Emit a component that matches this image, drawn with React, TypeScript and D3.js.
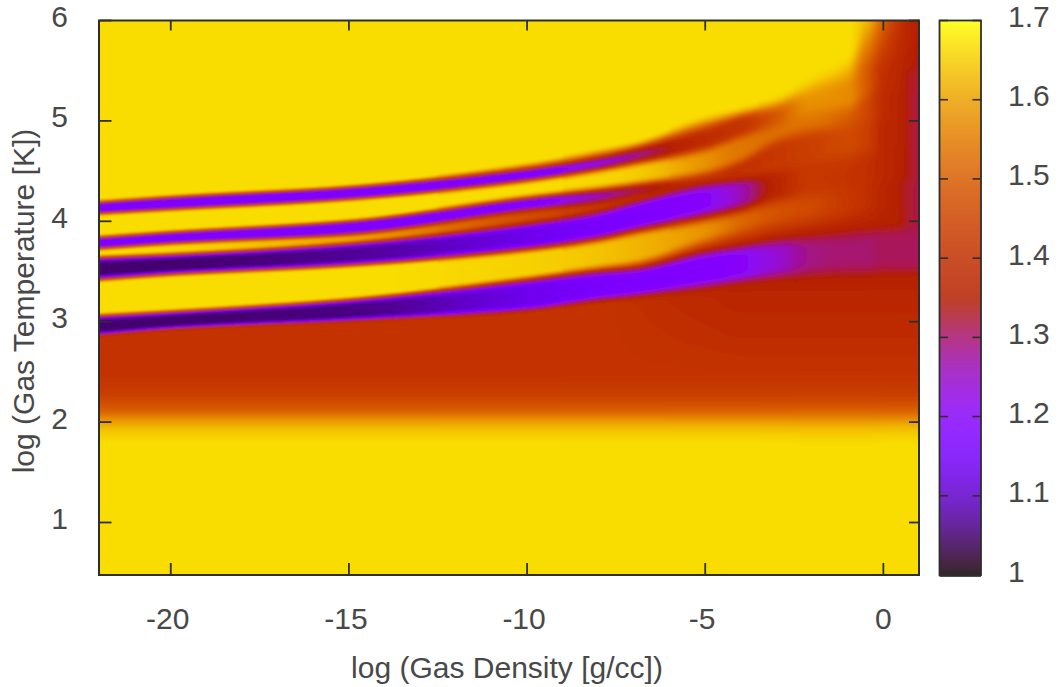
import React, { useMemo } from "react";
import * as d3 from "d3";

// Tick labels
const densityTicks = [-20, -15, -10, -5, 0];
const temperatureTicks = [1, 2, 3, 4, 5, 6];
const gammaTicks = [1, 1.1, 1.2, 1.3, 1.4, 1.5, 1.6, 1.7];

// Columns: log density at which each profile was read
const densityColumns = [-22, -20, -15, -10, -8, -7, -5, -4, -3, -2, -1, -0.5, 0, 0.4, 0.7, 1];

// Cold end of every profile (same at all densities)
const lowT = [0.477, 1.8, 1.92, 2.0, 2.12, 2.27, 2.45];
const lowGamma = [1.667, 1.667, 1.64, 1.6, 1.5, 1.44, 1.41];

const rimT = [2.85, 2.91, 2.99, 3.1, 3.19, 3.21, 3.27, 3.28, 3.28, 3.28, 3.28, 3.28, 3.28, 3.28, 3.28, 3.28];
const rimGamma = [1.41, 1.41, 1.41, 1.41, 1.41, 1.4, 1.38, 1.37, 1.37, 1.37, 1.37, 1.37, 1.37, 1.37, 1.37, 1.37];
const ramp = [0.04, 0.04, 0.04, 0.05, 0.05, 0.06, 0.07, 0.07, 0.07, 0.08, 0.08, 0.08, 0.08, 0.08, 0.08, 0.08];
const rampAboveA = [0.04, 0.04, 0.04, 0.05, 0.06, 0.08, 0.14, 0.18, 0.2, 0.2, 0.2, 0.2, 0.2, 0.2, 0.2, 0.2];
const softness = [0, 0, 0, 1, 2, 2, 3, 3, 4, 5, 5, 5, 4, 3, 3, 3];

const bandALow = [2.87, 2.93, 3.01, 3.11, 3.21, 3.25, 3.34, 3.39, 3.43, 3.45, 3.46, 3.46, 3.47, 3.47, 3.47, 3.47];
const bandAHigh = [3.05, 3.09, 3.21, 3.41, 3.5, 3.53, 3.7, 3.76, 3.82, 3.87, 3.91, 3.93, 3.95, 3.96, 3.96, 3.96];
const bandACore = [1.05, 1.05, 1.06, 1.13, 1.16, 1.17, 1.18, 1.2, 1.24, 1.29, 1.3, 1.3, 1.31, 1.31, 1.31, 1.31];
const gapAB = [1.667, 1.667, 1.667, 1.655, 1.64, 1.625, 1.58, 1.52, 1.48, 1.46, 1.42, 1.4, 1.37, 1.35, 1.33, 1.32];

const bandBLow = [3.43, 3.48, 3.57, 3.73, 3.83, 3.91, 4.05, 4.13, 4.24, 4.31, 4.36, 4.41, 4.43, 4.45, 4.45, 4.45];
const bandBHigh = [3.63, 3.66, 3.77, 3.97, 4.09, 4.19, 4.37, 4.42, 4.46, 4.51, 4.56, 4.59, 4.61, 4.61, 4.61, 4.61];
const bandBCore = [1.05, 1.05, 1.07, 1.13, 1.16, 1.17, 1.2, 1.26, 1.37, 1.42, 1.41, 1.4, 1.38, 1.36, 1.34, 1.32];
const gapBC = [1.667, 1.66, 1.6, 1.47, 1.43, 1.41, 1.39, 1.4, 1.41, 1.42, 1.43, 1.41, 1.38, 1.36, 1.34, 1.32];

const bandCLow = [3.74, 3.79, 3.88, 4.12, 4.2, 4.26, 4.37, 4.45, 4.53, 4.61, 4.69, 4.71, 4.75, 4.76, 4.76, 4.76];
const bandCHigh = [3.83, 3.88, 3.99, 4.22, 4.3, 4.34, 4.44, 4.56, 4.76, 4.86, 4.91, 4.96, 4.96, 4.96, 4.96, 4.96];
const bandCCore = [1.17, 1.17, 1.17, 1.18, 1.26, 1.31, 1.39, 1.4, 1.42, 1.44, 1.46, 1.44, 1.38, 1.365, 1.34, 1.32];
const gapCD = [1.667, 1.667, 1.667, 1.667, 1.66, 1.65, 1.58, 1.54, 1.53, 1.54, 1.5, 1.46, 1.39, 1.365, 1.34, 1.32];

const bandDLow = [4.09, 4.13, 4.23, 4.42, 4.53, 4.6, 4.75, 4.88, 4.99, 5.13, 5.16, 5.26, 5.36, 5.36, 5.36, 5.36];
const bandDHigh = [4.18, 4.23, 4.33, 4.51, 4.62, 4.7, 4.89, 5.02, 5.11, 5.26, 5.36, 5.51, 5.51, 5.51, 5.51, 5.51];
const bandDCore = [1.17, 1.17, 1.17, 1.17, 1.22, 1.28, 1.39, 1.41, 1.49, 1.58, 1.57, 1.5, 1.4, 1.375, 1.34, 1.33];

const shoulderT = [4.22, 4.27, 4.37, 4.58, 4.71, 4.78, 5.03, 5.11, 5.21, 5.41, 5.61, 5.86, 5.78, 5.81, 5.81, 5.81];
const shoulderGamma = [1.667, 1.667, 1.667, 1.667, 1.667, 1.667, 1.667, 1.667, 1.667, 1.667, 1.667, 1.6, 1.46, 1.4, 1.37, 1.34];
const topGamma = [1.667, 1.667, 1.667, 1.667, 1.667, 1.667, 1.667, 1.667, 1.667, 1.667, 1.667, 1.64, 1.51, 1.42, 1.37, 1.35];

const WIDTH = 1061;
const HEIGHT = 687;
const x = d3.scaleLinear().domain([-22, 1]).range([99.5, 919]);
const y = d3.scaleLinear().domain([6, 1]).range([20.5, 522.5]);
const yBottom = y.invert(575);
const gammaY = d3.scaleLinear().domain([1, 1.7]).range([575, 20.5]);

// gnuplot pm3d default palette (rgbformulae 7,5,15)
function palette(v: number): [number, number, number] {
  const t = Math.max(0, Math.min(1, (v - 1) / 0.7));
  return [
    Math.round(255 * Math.sqrt(t)),
    Math.round(255 * t * t * t),
    Math.round(255 * Math.max(0, Math.sin(2 * Math.PI * t))),
  ];
}

type Knots = { t: number[]; v: number[] };

function columnKnots(i: number): Knots {
  const t = [...lowT];
  const v = [...lowGamma];
  const d = ramp[i];
  t.push(rimT[i]);
  v.push(rimGamma[i]);
  const band = (lo: number, hi: number, core: number, below: number, above: number) => {
    const w = hi - lo;
    t.push(lo, lo + 0.18 * w, hi - 0.18 * w, hi);
    v.push(Math.max(core, Math.min(1.35, below)), core, core, Math.max(core, Math.min(1.35, above)));
  };
  const gap = (lo: number, hi: number, g: number, dLo: number) => {
    let a = lo + dLo;
    let b = hi - d;
    if (a > b) a = b = (lo + hi) / 2;
    t.push(a, b);
    v.push(g, g);
  };
  band(bandALow[i], bandAHigh[i], bandACore[i], rimGamma[i], gapAB[i]);
  gap(bandAHigh[i], bandBLow[i], gapAB[i], rampAboveA[i]);
  band(bandBLow[i], bandBHigh[i], bandBCore[i], gapAB[i], gapBC[i]);
  gap(bandBHigh[i], bandCLow[i], gapBC[i], d);
  band(bandCLow[i], bandCHigh[i], bandCCore[i], gapBC[i], gapCD[i]);
  gap(bandCHigh[i], bandDLow[i], gapCD[i], d);
  band(bandDLow[i], bandDHigh[i], bandDCore[i], gapCD[i], shoulderGamma[i]);
  t.push(shoulderT[i], 6.01);
  v.push(shoulderGamma[i], topGamma[i]);
  return { t, v };
}

// Smooth monotone Hermite slopes between the read columns
function slopes(xs: number[], ys: number[]): number[] {
  const n = xs.length;
  const s = new Array(n).fill(0);
  for (let i = 1; i < n - 1; i++) {
    const d0 = (ys[i] - ys[i - 1]) / (xs[i] - xs[i - 1]);
    const d1 = (ys[i + 1] - ys[i]) / (xs[i + 1] - xs[i]);
    if (d0 * d1 > 0) {
      const h0 = xs[i] - xs[i - 1];
      const h1 = xs[i + 1] - xs[i];
      s[i] = (3 * (h0 + h1)) / ((2 * h1 + h0) / d0 + (h1 + 2 * h0) / d1);
    }
  }
  s[0] = (ys[1] - ys[0]) / (xs[1] - xs[0]);
  s[n - 1] = (ys[n - 1] - ys[n - 2]) / (xs[n - 1] - xs[n - 2]);
  return s;
}

function hermite(xs: number[], ys: number[], ms: number[], j: number, q: number): number {
  const h = xs[j + 1] - xs[j];
  const f = (q - xs[j]) / h;
  const f2 = f * f;
  const f3 = f2 * f;
  return (
    (2 * f3 - 3 * f2 + 1) * ys[j] +
    (f3 - 2 * f2 + f) * h * ms[j] +
    (-2 * f3 + 3 * f2) * ys[j + 1] +
    (f3 - f2) * h * ms[j + 1]
  );
}

function boxBlur(a: Float64Array, r: number): Float64Array {
  if (r < 1) return a;
  const out = new Float64Array(a.length);
  for (let i = 0; i < a.length; i++) {
    let sum = 0;
    let c = 0;
    for (let k = Math.max(0, i - r); k <= Math.min(a.length - 1, i + r); k++) {
      sum += a[k];
      c++;
    }
    out[i] = sum / c;
  }
  return out;
}

function renderField(px0: number, py0: number, w: number, h: number): string {
  const canvas = document.createElement("canvas");
  canvas.width = w;
  canvas.height = h;
  const ctx = canvas.getContext("2d")!;
  const img = ctx.createImageData(w, h);
  const columns = densityColumns.map((_, i) => columnKnots(i));
  const n = columns[0].t.length;
  const tSeries = d3.range(n).map((k) => columns.map((c) => c.t[k]));
  const vSeries = d3.range(n).map((k) => columns.map((c) => c.v[k]));
  const tSlopes = tSeries.map((s) => slopes(densityColumns, s));
  const vSlopes = vSeries.map((s) => slopes(densityColumns, s));
  const soft = d3.scaleLinear().domain(densityColumns).range(softness);
  const bis = d3.bisector((d: number) => d).right;
  for (let c = 0; c < w; c++) {
    const rho = Math.max(-22, Math.min(1, x.invert(px0 + c + 0.5)));
    let j = bis(densityColumns, rho) - 1;
    j = Math.max(0, Math.min(densityColumns.length - 2, j));
    const ts = new Array(n);
    const vs = new Array(n);
    for (let k = 0; k < n; k++) {
      ts[k] = hermite(densityColumns, tSeries[k], tSlopes[k], j, rho);
      if (k > 0 && ts[k] < ts[k - 1]) ts[k] = ts[k - 1];
      vs[k] = hermite(densityColumns, vSeries[k], vSlopes[k], j, rho);
    }
    let column = new Float64Array(h);
    for (let r = 0; r < h; r++) {
      const T = Math.max(ts[0], Math.min(ts[n - 1], y.invert(py0 + r + 0.5)));
      let a = bis(ts, T) - 1;
      a = Math.max(0, Math.min(n - 2, a));
      const span = ts[a + 1] - ts[a];
      const g = span > 1e-6 ? (T - ts[a]) / span : 0;
      column[r] = vs[a] * (1 - g) + vs[a + 1] * g;
    }
    const radius = Math.round(soft(rho));
    column = boxBlur(boxBlur(column, radius), radius);
    for (let r = 0; r < h; r++) {
      const [R, G, B] = palette(column[r]);
      const o = (r * w + c) * 4;
      img.data[o] = R;
      img.data[o + 1] = G;
      img.data[o + 2] = B;
      img.data[o + 3] = 255;
    }
  }
  ctx.putImageData(img, 0, 0);
  return canvas.toDataURL();
}

const INK = "#2e2e2e";
const TEXT = "#484848";
const FONT = "'Liberation Sans', Arial, sans-serif";
const TICK_SIZE = 30;

export default function App() {
  const left = x(-22);
  const right = x(1);
  const top = y(6);
  const bottom = y(yBottom);
  const pad = 5;
  const px0 = Math.floor(left) - pad;
  const py0 = Math.floor(top) - pad;
  const w = Math.ceil(right - left) + 2 * pad + 1;
  const h = Math.ceil(bottom - top) + 2 * pad + 1;
  const href = useMemo(() => renderField(px0, py0, w, h), []);
  const barValues = d3.range(0, 556).map((i) => gammaY.invert(20.5 + i));
  return (
    <svg width={WIDTH} height={HEIGHT} style={{ position: "absolute", left: 0, top: 0, display: "block" }} fontFamily={FONT}>
      <defs>
        <clipPath id="plot">
          <rect x={left} y={top} width={right - left} height={bottom - top} />
        </clipPath>
        <filter id="soft" x="0" y="0" width="100%" height="100%">
          <feGaussianBlur stdDeviation="1.1" />
        </filter>
      </defs>
      <g clipPath="url(#plot)">
        <image href={href} x={px0} y={py0} width={w} height={h} filter="url(#soft)" />
      </g>
      <rect x={left - 0.5} y={top} width={right - left + 0.5} height={bottom - top} fill="none" stroke={INK} strokeWidth={2} />
      {densityTicks.map((d) => (
        <g key={d}>
          <line x1={x(d)} x2={x(d)} y1={bottom} y2={bottom - 12} stroke={INK} strokeWidth={1.8} />
          <line x1={x(d)} x2={x(d)} y1={top} y2={top + 10} stroke={INK} strokeWidth={1.8} />
          <text x={x(d)} dx={d < 0 ? -3 : 0} y={629} textAnchor="middle" fontSize={TICK_SIZE} fill={TEXT}>{d}</text>
        </g>
      ))}
      {temperatureTicks.map((d) => (
        <g key={d}>
          <line x1={left} x2={left + 12} y1={y(d)} y2={y(d)} stroke={INK} strokeWidth={1.8} />
          <line x1={right} x2={right - 10} y1={y(d)} y2={y(d)} stroke={INK} strokeWidth={1.8} />
          <text x={68} y={y(d) + 6.5} textAnchor="end" fontSize={TICK_SIZE} fill={TEXT}>{d}</text>
        </g>
      ))}
      <text x={507} y={678} textAnchor="middle" fontSize={TICK_SIZE} fill={TEXT}>log (Gas Density [g/cc])</text>
      <text transform={`translate(34,301) rotate(-90)`} textAnchor="middle" fontSize={TICK_SIZE} fill={TEXT}>log (Gas Temperature [K])</text>
      {barValues.map((v, i) => {
        const [R, G, B] = palette(v);
        return <rect key={i} x={939.5} y={gammaY(v)} width={41.5} height={1.2} fill={`rgb(${R},${G},${B})`} />;
      })}
      <rect x={939.5} y={20.5} width={41.5} height={554.5} fill="none" stroke={INK} strokeWidth={1.8} />
      {gammaTicks.map((g) => (
        <g key={g}>
          <line x1={939.5} x2={948} y1={gammaY(g)} y2={gammaY(g)} stroke={INK} strokeWidth={1.6} />
          <line x1={981} x2={972.5} y1={gammaY(g)} y2={gammaY(g)} stroke={INK} strokeWidth={1.6} />
          <text x={1008} y={gammaY(g) + 6.5} fontSize={TICK_SIZE} fill={TEXT}>{g === 1 ? "1" : g.toFixed(1)}</text>
        </g>
      ))}
    </svg>
  );
}
